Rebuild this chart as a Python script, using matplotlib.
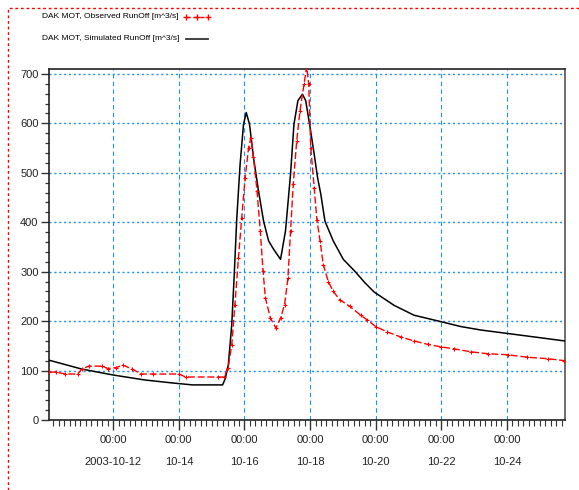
import pandas as pd
import matplotlib
matplotlib.use('Agg')
from matplotlib import pyplot as plt
import matplotlib.dates as mdates
from matplotlib.lines import Line2D

START = pd.Timestamp('2003-10-10 00:00')

# observed runoff, hours after START -> m3/s
obs_hours = [1, 6, 13, 22, 25, 30, 40, 44, 50, 55, 62, 68, 77, 96, 101, 125, 129, 132,
             134.7, 137, 139.6, 142, 144.5, 147, 148.7, 150.6, 153.2, 155.6, 157.6,
             159.3, 163, 167, 170.4, 173.3, 175.8, 177.7, 179.7, 182.2, 184.6, 187.6,
             189.5, 191, 192.5, 195, 197, 199.3, 201.7, 205.3, 209, 213.8, 221, 229,
             234, 240, 248.6, 258.3, 268, 278, 287.6, 297.4, 309.6, 322, 336.5, 351,
             366, 378]
obs_vals = [97, 97, 93, 93, 103, 109, 109, 104, 106, 111, 103, 93, 93, 93, 87, 87, 87,
            105, 152, 233, 328, 409, 490, 551, 571, 531, 463, 382, 301, 247, 206, 186,
            206, 233, 287, 382, 477, 564, 625, 680, 715, 680, 551, 470, 405, 362, 314,
            280, 260, 243, 230, 212, 202, 189, 178, 168, 160, 153, 148, 144, 138, 134,
            132, 127, 124, 120]

# simulated runoff
sim_hours = [1, 25, 48, 71, 91, 106, 128, 130, 132.2, 134.7, 136.4, 138.4, 140.8, 143.3,
             145.3, 147.7, 150.6, 154.3, 158, 161.7, 165.4, 170.4, 174, 177.7, 180.2,
             183.1, 186.4, 188.8, 192, 195, 197.5, 199.9, 202.9, 209, 216.3, 224.7,
             232, 238.8, 253.4, 268, 287.6, 302.3, 317, 336.5, 356, 378]
sim_vals = [121, 103, 91, 81, 75, 71, 71, 84, 112, 193, 287, 409, 517, 598, 622, 598,
            531, 463, 402, 362, 345, 325, 382, 497, 598, 646, 659, 646, 592, 538, 490,
            456, 402, 362, 325, 301, 278, 259, 232, 212, 199, 189, 182, 175, 168, 160]

x_start = '2003-10-10 01:00'
x_end = '2003-10-25 18:30'
y_max = 710

legend_labels = ['DAK MOT, Observed RunOff [m^3/s]', 'DAK MOT, Simulated RunOff [m^3/s]']


def main():
    plt.rcParams['font.family'] = ['Liberation Sans', 'DejaVu Sans']
    fig = plt.figure(figsize=(5.79, 4.90), dpi=100)
    ax = fig.add_axes([49 / 579, 70 / 490, 516 / 579, 351 / 490])

    obs_t = START + pd.to_timedelta(obs_hours, unit='h')
    sim_t = START + pd.to_timedelta(sim_hours, unit='h')

    ax.plot(sim_t, sim_vals, color='black', lw=1.1, zorder=3)
    ax.plot(obs_t, obs_vals, color='red', lw=1.0, ls=(0, (5, 2)), marker='+',
            markersize=3.5, markeredgewidth=0.8, zorder=4)

    ax.set_xlim(pd.Timestamp(x_start), pd.Timestamp(x_end))
    ax.set_ylim(0, y_max)

    ax.xaxis.set_major_locator(mdates.DayLocator(bymonthday=[12, 14, 16, 18, 20, 22, 24]))
    ax.xaxis.set_minor_locator(mdates.HourLocator(byhour=range(0, 24, 4)))

    def fmt(x, pos):
        d = mdates.num2date(x)
        if d.day == 12:
            return '00:00\n' + d.strftime('%Y-%m-%d')
        return '00:00\n' + d.strftime('%m-%d')
    ax.xaxis.set_major_formatter(plt.FuncFormatter(fmt))

    ax.set_yticks(range(0, 701, 100))
    ax.set_yticks(range(0, 701, 20), minor=True)

    ax.tick_params(axis='both', which='major', labelsize=8, color='#333333', labelcolor='#222222')
    ax.tick_params(axis='y', which='major', length=6, width=1, pad=1.5)
    ax.tick_params(axis='y', which='minor', length=3, width=0.9, color='#333333')
    ax.tick_params(axis='x', which='major', length=7, width=1, pad=3.5)
    ax.tick_params(axis='x', which='minor', length=4, width=0.8, color='#333333')
    for lab in ax.get_xticklabels():
        lab.set_linespacing(2.6)

    ax.grid(axis='y', which='major', color='#1E90FF', ls=(0, (1.5, 2)), lw=1.0)
    ax.grid(axis='x', which='major', color='#1E90FF', ls=(0, (4, 3)), lw=0.8)

    for side in ['left', 'bottom', 'top']:
        ax.spines[side].set_color('#222222')
        ax.spines[side].set_linewidth(1.2)
    ax.spines['right'].set_color('#555555')
    ax.spines['right'].set_linewidth(1.2)

    # legend drawn in figure pixels
    W, H = 579, 490
    fig.text(42 / W, 1 - 17 / H, legend_labels[0], fontsize=6.0, va='center', ha='left')
    fig.text(42 / W, 1 - 39 / H, legend_labels[1], fontsize=6.0, va='center', ha='left')
    fig.add_artist(Line2D([186 / W, 197 / W, 208 / W], [1 - 17 / H] * 3, color='red',
                          lw=1.0, ls=(0, (3, 2)), marker='+', markersize=4,
                          transform=fig.transFigure))
    fig.add_artist(Line2D([186 / W, 208 / W], [1 - 39 / H, 1 - 39 / H], color='#333333',
                          lw=1.3, transform=fig.transFigure))

    # dotted red frame
    fig.add_artist(Line2D([8 / W, 8 / W, 1.0], [0.0, 1 - 8 / H, 1 - 8 / H], color='red',
                          lw=1.0, ls=(0, (2, 2)), transform=fig.transFigure))

    fig.savefig('out.png', dpi=100)


if __name__ == '__main__':
    main()
